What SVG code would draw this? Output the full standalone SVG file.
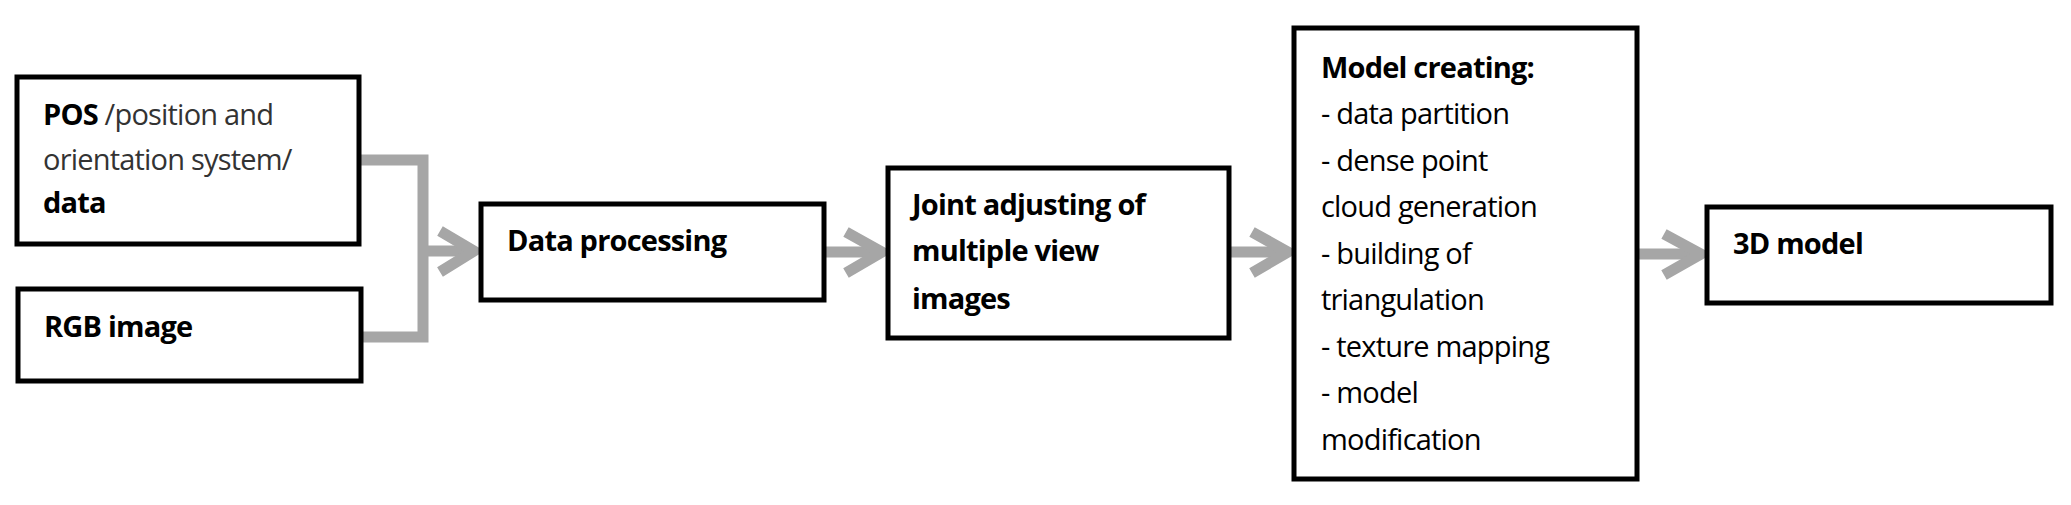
<svg xmlns="http://www.w3.org/2000/svg" width="2071" height="505" viewBox="0 0 2071 505">
<style>
.box{fill:#fff;stroke:#000;stroke-width:5}
text{font-family:"Open Sans","Liberation Sans",sans-serif;font-size:29px;fill:#000;letter-spacing:-0.8px}
.b{font-weight:bold}
.r{fill:#333}
.c{fill:none;stroke:#a6a6a6;stroke-width:11}
</style>
<rect width="2071" height="505" fill="#fff"/>
<g id="connectors">
<polyline class="c" points="359,160 423,160 423,337 361,337"/>
<line class="c" x1="423" y1="251" x2="474" y2="251"/>
<polyline class="c" points="440,231 474,251 440,272"/>
<line class="c" x1="824" y1="252" x2="882" y2="252"/>
<polyline class="c" points="846,232 882,252 846,273"/>
<line class="c" x1="1229" y1="252" x2="1288" y2="252"/>
<polyline class="c" points="1252,232 1288,252 1252,273"/>
<line class="c" x1="1637" y1="254" x2="1701" y2="254"/>
<polyline class="c" points="1664,234 1701,254 1664,275"/>
</g>
<g id="pos">
<rect class="box" x="17" y="77" width="342" height="167"/>
<text x="43" y="125"><tspan class="b">POS</tspan><tspan class="r"> /position and</tspan></text>
<text x="43" y="170" class="r">orientation system/</text>
<text x="43" y="213" class="b">data</text>
</g>
<g id="rgb">
<rect class="box" x="18" y="289" width="343" height="92"/>
<text x="44" y="337" class="b">RGB image</text>
</g>
<g id="dataproc">
<rect class="box" x="481" y="204" width="343" height="96"/>
<text x="507" y="251" class="b">Data processing</text>
</g>
<g id="joint">
<rect class="box" x="888" y="168" width="341" height="170"/>
<text x="912" y="215" class="b">Joint adjusting of</text>
<text x="912" y="261" class="b">multiple view</text>
<text x="912" y="309" class="b">images</text>
</g>
<g id="model">
<rect class="box" x="1294" y="28" width="343" height="451"/>
<text x="1321" y="78" class="b">Model creating:</text>
<text x="1321" y="124">- data partition</text>
<text x="1321" y="171">- dense point</text>
<text x="1321" y="217">cloud generation</text>
<text x="1321" y="264">- building of</text>
<text x="1321" y="310">triangulation</text>
<text x="1321" y="357">- texture mapping</text>
<text x="1321" y="403">- model</text>
<text x="1321" y="450">modification</text>
</g>
<g id="model3d">
<rect class="box" x="1707" y="207" width="344" height="96"/>
<text x="1733" y="254" class="b">3D model</text>
</g>
</svg>
